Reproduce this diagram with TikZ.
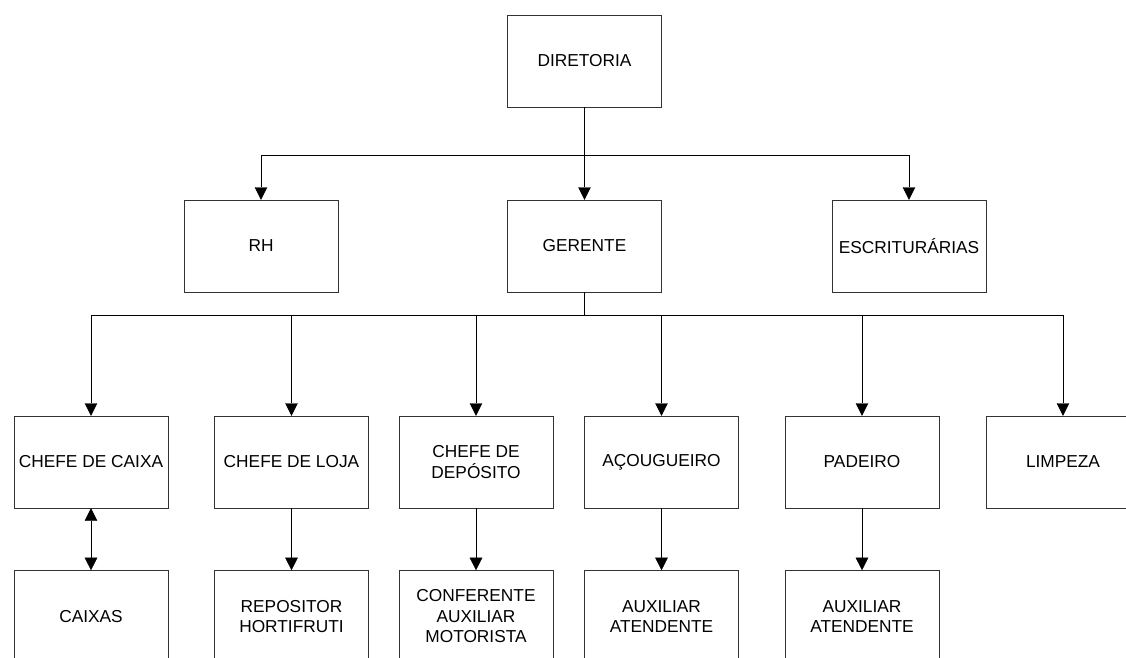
\documentclass[tikz,border=0pt]{standalone}
\usepackage{fontspec}
\setmainfont{Liberation Sans}
\usetikzlibrary{arrows.meta,positioning}
\tikzset{
    -{Triangle[length=12.5pt,width=12.5pt]},x=1pt,y=-1pt,line width=1pt,
    box/.style ={rectangle, draw=black!80, minimum width=154pt, minimum height=92pt,
        inner sep=0pt, align=center, font=\fontsize{17.3}{20.5}\selectfont},
    bidirected/.style={{Triangle[length=12.5pt,width=12.5pt]}-{Triangle[length=12.5pt,width=12.5pt]}}
}
\begin{document}
\begin{tikzpicture}
    \useasboundingbox (0,0) rectangle (1126,657);
    % Top levels
    \node[box] (dir) at (584.5,61) {DIRETORIA};
    \node[box] (rh) at (261,246) {RH};
    \node[box] (ger) at (584.5,246) {GERENTE};
    \node[box] (esc) at (909,246) {ESCRITURÁRIAS};
    \coordinate (b1) at (584.5,155);
    \coordinate (b2) at (584.5,315);

    % Chefes
    \node[box] (cx) at (91,462) {CHEFE DE CAIXA};
    \node[box] (lj) at (291.5,462) {CHEFE DE LOJA};
    \node[box] (dp) at (476,462) {CHEFE DE\\DEPÓSITO};
    \node[box] (ac) at (661.5,462) {AÇOUGUEIRO};
    \node[box] (pd) at (862,462) {PADEIRO};
    \node[box] (lp) at (1063,462) {LIMPEZA};

    % Equipes
    \node[box] (cxs) [below=62pt of cx] {CAIXAS};
    \node[box] (rep) [below=62pt of lj] {REPOSITOR\\HORTIFRUTI};
    \node[box] (conf) [below=62pt of dp] {CONFERENTE\\AUXILIAR\\MOTORISTA};
    \node[box] (aux1) [below=62pt of ac] {AUXILIAR\\ATENDENTE};
    \node[box] (aux2) [below=62pt of pd] {AUXILIAR\\ATENDENTE};

    % Directed edge
    \draw (dir) -- (b1) -| (rh);
    \draw (b1) -- (ger);
    \draw (b1) -| (esc);
    \draw[-] (ger) -- (b2);
    \foreach \n in {cx,lj,dp,ac,pd,lp}
        \draw (b2) -| (\n);

    % Directed edge
    \path[bidirected] (cx) edge (cxs);
    \path (lj) edge (rep);
    \path (dp) edge (conf);
    \path (ac) edge (aux1);
    \path (pd) edge (aux2);
\end{tikzpicture}
\end{document}
